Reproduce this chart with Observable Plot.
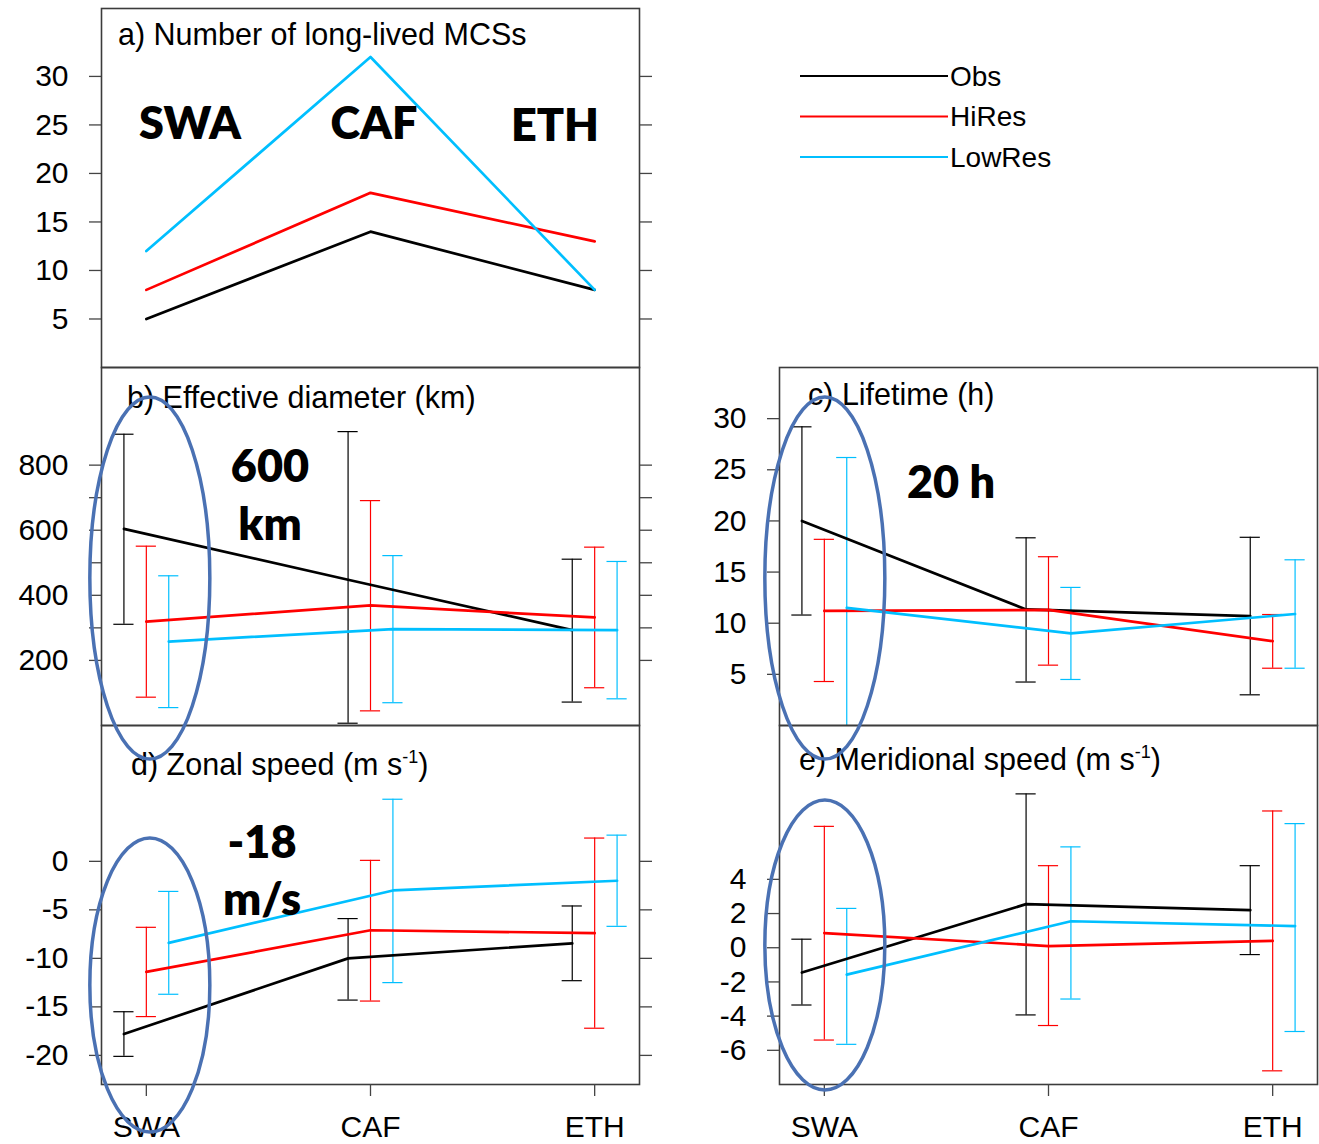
<!DOCTYPE html>
<html><head><meta charset="utf-8">
<script src="https://cdn.jsdelivr.net/npm/d3@7"></script>
<script src="https://cdn.jsdelivr.net/npm/@observablehq/plot@0.6"></script>
<style>
body{margin:0;background:#fff;}
#page{position:relative;width:1319px;height:1144px;overflow:hidden;font-family:"Liberation Sans",Arial,Helvetica,sans-serif;}
.panel{position:absolute;}
.panel svg{overflow:visible;background:none;}
#overlay{position:absolute;left:0;top:0;pointer-events:none;overflow:visible;}
</style></head><body><div id="page"></div>
<script>
const regions = ["SWA", "CAF", "ETH"];
const seriesNames = ["Obs", "HiRes", "LowRes"];
const seriesColors = ["#000000", "#ff0000", "#00bfff"];

// a) Number of long-lived MCSs
const countObs = [5, 14, 8];
const countHiRes = [8, 18, 13];
const countLowRes = [12, 32, 8];

// b) Effective diameter (km): mean, lower and upper bar ends
const diamObs = [604, 448, 293], diamObsLo = [311, 7, 72], diamObsHi = [895, 903, 511];
const diamHiRes = [319, 369, 332], diamHiResLo = [87, 45, 116], diamHiResHi = [551, 691, 548];
const diamLowRes = [258, 296, 293], diamLowResLo = [55, 70, 82], diamLowResHi = [460, 522, 504];

// c) Lifetime (h)
const lifeObs = [20.0, 11.35, 10.7], lifeObsLo = [10.8, 4.25, 3.0], lifeObsHi = [29.2, 18.35, 18.4];
const lifeHiRes = [11.2, 11.3, 8.25], lifeHiResLo = [4.3, 5.9, 5.6], lifeHiResHi = [18.2, 16.5, 10.85];
const lifeLowRes = [11.5, 9.0, 10.9], lifeLowResLo = [-1, 4.5, 5.6], lifeLowResHi = [26.2, 13.5, 16.2];

// d) Zonal speed (m s-1)
const zonObs = [-17.8, -10.0, -8.45], zonObsLo = [-20.1, -14.3, -12.3], zonObsHi = [-15.5, -5.9, -4.6];
const zonHiRes = [-11.4, -7.1, -7.4], zonHiResLo = [-16.0, -14.4, -17.2], zonHiResHi = [-6.8, 0.1, 2.4];
const zonLowRes = [-8.4, -3.0, -2.0], zonLowResLo = [-13.7, -12.5, -6.7], zonLowResHi = [-3.1, 6.4, 2.7];

// e) Meridional speed (m s-1)
const merObs = [-1.45, 2.55, 2.2], merObsLo = [-3.35, -3.93, -0.4], merObsHi = [0.5, 9.0, 4.8];
const merHiRes = [0.86, 0.1, 0.4], merHiResLo = [-5.4, -4.55, -7.2], merHiResHi = [7.1, 4.8, 8.0];
const merLowRes = [-1.57, 1.55, 1.27], merLowResLo = [-5.65, -3.0, -4.9], merLowResHi = [2.3, 5.9, 7.26];

// tick values
const ticksA = [5, 10, 15, 20, 25, 30];
const ticksB = [200, 300, 400, 500, 600, 700, 800];
const ticksC = [5, 10, 15, 20, 25, 30];
const ticksD = [-20, -15, -10, -5, 0];
const ticksE = [-6, -4, -2, 0, 2, 4];

function tidy(means, los, his, offsets) {
  const rows = [];
  seriesNames.forEach((s, si) => regions.forEach((r, ri) => rows.push({
    series: s, region: r, pos: ri + offsets[si],
    mean: means[si][ri], lo: los ? los[si][ri] : null, hi: his ? his[si][ri] : null
  })));
  return rows;
}
const OFF = [-0.1, 0, 0.1];
const rowsA = tidy([countObs, countHiRes, countLowRes], null, null, [0, 0, 0]);
const rowsB = tidy([diamObs, diamHiRes, diamLowRes], [diamObsLo, diamHiResLo, diamLowResLo], [diamObsHi, diamHiResHi, diamLowResHi], OFF);
const rowsC = tidy([lifeObs, lifeHiRes, lifeLowRes], [lifeObsLo, lifeHiResLo, lifeLowResLo], [lifeObsHi, lifeHiResHi, lifeLowResHi], OFF);
const rowsD = tidy([zonObs, zonHiRes, zonLowRes], [zonObsLo, zonHiResLo, zonLowResLo], [zonObsHi, zonHiResHi, zonLowResHi], OFF);
const rowsE = tidy([merObs, merHiRes, merLowRes], [merObsLo, merHiResLo, merLowResLo], [merObsHi, merHiResHi, merLowResHi], OFF);

const page = document.getElementById("page");
const FRAME_W = 538;
const CAP = 0.045;

function drawPanel(o) {
  const ml = o.marginLeft, mr = o.marginRight, mb = o.marginBottom || 0;
  const marks = [];
  if (o.rows[0].lo != null) {
    marks.push(Plot.ruleX(o.rows, {x: "pos", y1: "lo", y2: "hi", stroke: "series", strokeWidth: 1.2, clip: true}));
    marks.push(Plot.ruleY(o.rows.filter(d => d.lo >= o.yDomain[0]), {y: "lo", x1: d => d.pos - CAP, x2: d => d.pos + CAP, stroke: "series", strokeWidth: 1.2}));
    marks.push(Plot.ruleY(o.rows, {y: "hi", x1: d => d.pos - CAP, x2: d => d.pos + CAP, stroke: "series", strokeWidth: 1.2}));
  }
  marks.push(Plot.line(o.rows, {x: "pos", y: "mean", z: "series", stroke: "series", strokeWidth: 2.7}));
  marks.push(Plot.frame({stroke: "#3c3c3c", strokeWidth: 1.6}));
  marks.push(Plot.axisY({anchor: "left", ticks: o.ticks, tickFormat: o.fmt || (d => d), tickSize: 12, tickPadding: 21, label: null, stroke: "#444", strokeWidth: 1.3, fill: "#000"}));
  if (o.rightTicks) marks.push(Plot.axisY({anchor: "right", ticks: o.ticks, tickFormat: () => "", tickSize: 12, label: null, stroke: "#444", strokeWidth: 1.3}));
  if (o.xAxis) marks.push(Plot.axisX({anchor: "bottom", ticks: [0, 1, 2], tickFormat: i => regions[i], tickSize: 12, tickPadding: 19, label: null, stroke: "#444", strokeWidth: 1.3, fill: "#000"}));
  const plot = Plot.plot({
    width: ml + FRAME_W + mr,
    height: o.frameH + mb,
    marginLeft: ml, marginRight: mr, marginTop: 0, marginBottom: mb,
    style: {fontFamily: '"Liberation Sans", Arial, Helvetica, sans-serif', fontSize: "30px", background: "none", overflow: "visible"},
    x: o.xAxis ? {domain: [-0.2, 2.2]} : {domain: [-0.2, 2.2], axis: null},
    y: {domain: o.yDomain},
    color: {domain: seriesNames, range: seriesColors},
    marks
  });
  const div = document.createElement("div");
  div.className = "panel";
  div.style.left = (o.frameLeft - ml) + "px";
  div.style.top = o.frameTop + "px";
  div.appendChild(plot);
  page.appendChild(div);
  return plot;
}

const pA = drawPanel({rows: rowsA, yDomain: [0, 37], ticks: ticksA, rightTicks: true, frameLeft: 101, frameTop: 8, frameH: 359, marginLeft: 101, marginRight: 20});
const pB = drawPanel({rows: rowsB, yDomain: [0, 1100], ticks: ticksB, fmt: d => (d % 200 === 0 ? d : ""), rightTicks: true, frameLeft: 101, frameTop: 367, frameH: 358, marginLeft: 101, marginRight: 20});
const pC = drawPanel({rows: rowsC, yDomain: [0, 35], ticks: ticksC, rightTicks: false, frameLeft: 779, frameTop: 367, frameH: 358, marginLeft: 90, marginRight: 2});
const pD = drawPanel({rows: rowsD, yDomain: [-23, 14], ticks: ticksD, rightTicks: true, xAxis: true, frameLeft: 101, frameTop: 725, frameH: 359, marginLeft: 101, marginRight: 20, marginBottom: 58});
const pE = drawPanel({rows: rowsE, yDomain: [-8, 13], ticks: ticksE, rightTicks: false, xAxis: true, frameLeft: 779, frameTop: 725, frameH: 359, marginLeft: 90, marginRight: 2, marginBottom: 58});

// overlay: panel titles, legend, annotations
const NS = "http://www.w3.org/2000/svg";
const ov = document.createElementNS(NS, "svg");
ov.setAttribute("id", "overlay");
ov.setAttribute("width", 1319);
ov.setAttribute("height", 1144);
page.appendChild(ov);
function txt(x, y, str, attrs = {}) {
  const t = document.createElementNS(NS, "text");
  t.setAttribute("x", x); t.setAttribute("y", y);
  t.setAttribute("font-family", attrs.family || '"Liberation Sans", Arial, Helvetica, sans-serif');
  t.setAttribute("font-size", attrs.size || 30.5);
  if (attrs.weight) t.setAttribute("font-weight", attrs.weight);
  if (attrs.anchor) t.setAttribute("text-anchor", attrs.anchor);
  if (attrs.baseline) t.setAttribute("dominant-baseline", attrs.baseline);
  t.setAttribute("fill", "#000");
  if (Array.isArray(str)) {
    for (const part of str) {
      const ts = document.createElementNS(NS, "tspan");
      ts.textContent = part.t;
      if (part.sup) { ts.setAttribute("font-size", 18); ts.setAttribute("dy", -12); }
      if (part.after) { ts.setAttribute("dy", 12); }
      t.appendChild(ts);
    }
  } else t.textContent = str;
  ov.appendChild(t);
  return t;
}
function ell(cx, cy, rx, ry) {
  const e = document.createElementNS(NS, "ellipse");
  e.setAttribute("cx", cx); e.setAttribute("cy", cy);
  e.setAttribute("rx", rx); e.setAttribute("ry", ry);
  e.setAttribute("fill", "none"); e.setAttribute("stroke", "#4a71b3"); e.setAttribute("stroke-width", 3.5);
  ov.appendChild(e);
}

// panel titles
txt(118, 45, "a) Number of long-lived MCSs");
txt(127, 408, "b) Effective diameter (km)");
txt(808, 405, "c) Lifetime (h)");
txt(131, 775, [{t: "d) Zonal speed (m s"}, {t: "-1", sup: true}, {t: ")", after: true}]);
txt(799, 770, [{t: "e) Meridional speed (m s"}, {t: "-1", sup: true}, {t: ")", after: true}]);

// legend
seriesNames.forEach((s, i) => {
  const y = 76 + i * 40.5;
  const l = document.createElementNS(NS, "line");
  l.setAttribute("x1", 800); l.setAttribute("x2", 948);
  l.setAttribute("y1", y); l.setAttribute("y2", y);
  l.setAttribute("stroke", seriesColors[i]); l.setAttribute("stroke-width", 2);
  ov.appendChild(l);
  txt(950, y, s, {baseline: "central", size: 28});
});

// bold annotations
const B = {family: "Lato, 'Open Sans', sans-serif", weight: 800, size: 45, anchor: "middle"};
txt(190, 139, "SWA", B);
txt(374, 139, "CAF", B);
txt(555, 141, "ETH", B);
txt(270, 482, "600", B);
txt(270, 540, "km", B);
txt(951, 498, "20 h", B);
txt(262, 858, "-18", B);
txt(262, 915, "m/s", B);

// highlight ellipses around the SWA region (centred on the SWA category position)
const xl = 101 + pB.scale("x").apply(0) - 101;
const xr = 779 + pC.scale("x").apply(0) - 90;
ell(xl + 4, 578, 60, 181);
ell(xl + 4, 985, 60, 147);
ell(xr + 1, 578, 60, 181);
ell(xr + 1, 945, 60, 145);
</script></body></html>
